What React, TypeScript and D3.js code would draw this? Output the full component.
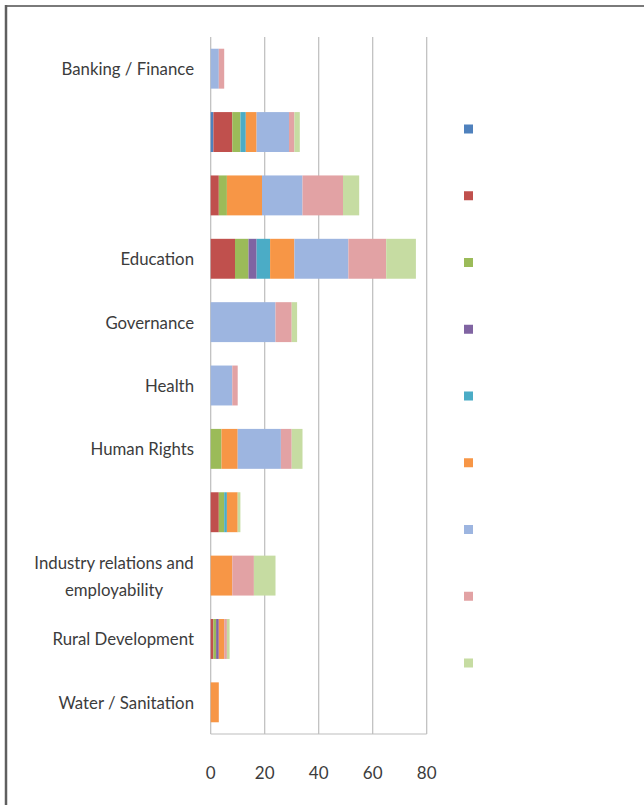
import React from "react";
import * as d3 from "d3";

const categories = [
  "Banking / Finance",
  "",
  " ",
  "Education",
  "Governance",
  "Health",
  "Human Rights",
  "  ",
  "Industry relations and|employability",
  "Rural Development",
  "Water / Sanitation",
];

const seriesKeys = ["s1", "s2", "s3", "s4", "s5", "s6", "s7", "s8", "s9"];
const seriesColors = [
  "#4F81BD", "#C0504D", "#9BBB59", "#8064A2", "#4BACC6",
  "#F79646", "#9DB5E0", "#E2A2A4", "#C6DCA2",
];

// values per category, in series order s1..s9
const s1 = [0, 1, 0, 0, 0, 0, 0, 0, 0, 0, 0];
const s2 = [0, 7, 3, 9, 0, 0, 0, 3, 0, 1, 0];
const s3 = [0, 3, 3, 5, 0, 0, 4, 2, 0, 1, 0];
const s4 = [0, 0, 0, 3, 0, 0, 0, 0, 0, 1, 0];
const s5 = [0, 2, 0, 5, 0, 0, 0, 1, 0, 0, 0];
const s6 = [0, 4, 13, 9, 0, 0, 6, 4, 8, 2, 3];
const s7 = [3, 12, 15, 20, 24, 8, 16, 0, 0, 0, 0];
const s8 = [2, 2, 15, 14, 6, 2, 4, 0, 8, 1, 0];
const s9 = [0, 2, 6, 11, 2, 0, 4, 1, 8, 1, 0];

const xTicks = [0, 20, 40, 60, 80];

const allSeries = [s1, s2, s3, s4, s5, s6, s7, s8, s9];

export default function App() {
  const W = 644;
  const H = 805;
  const left = 210.7;
  const right = 426.7;
  const top = 37;
  const bottom = 734;

  const x = d3.scaleLinear().domain([0, 80]).range([left, right]);
  const y = d3
    .scaleBand<string>()
    .domain(categories)
    .range([top, bottom])
    .paddingInner(0.37)
    .paddingOuter(0.185);

  const rows = categories.map((c, i) => {
    const r: any = { cat: c };
    seriesKeys.forEach((k, j) => (r[k] = allSeries[j][i]));
    return r;
  });
  const stacked = d3.stack<any>().keys(seriesKeys)(rows);

  const legendY = d3.scaleLinear().domain([0, 8]).range([129, 663]);

  const textColor = "#3c3c3c";
  const font = "Lato, 'Open Sans', sans-serif";
  const labelSize = 16.8;

  return (
    <svg
      width={W}
      height={H}
      style={{ position: "absolute", left: 0, top: 0, background: "#fff" }}
    >
      <rect x={0} y={0} width={W} height={H} fill="#fff" />
      {/* frame */}
      <line x1={5} y1={6} x2={W} y2={6} stroke="#7a7a7a" strokeWidth={2} />
      <line x1={6} y1={5} x2={6} y2={H} stroke="#5f5f5f" strokeWidth={2.5} />

      {/* gridlines */}
      {xTicks.map((t) => (
        <line
          key={"g" + t}
          x1={x(t)}
          x2={x(t)}
          y1={top}
          y2={bottom}
          stroke="#BDBDBD"
          strokeWidth={1.2}
        />
      ))}
      <line x1={left} x2={right} y1={bottom} y2={bottom} stroke="#BDBDBD" strokeWidth={1.2} />

      {/* bars */}
      {stacked.map((layer, j) => (
        <g key={layer.key} fill={seriesColors[j]}>
          {layer.map((d, i) =>
            d[1] - d[0] > 0 ? (
              <rect
                key={i}
                x={x(d[0])}
                width={x(d[1]) - x(d[0])}
                y={y(categories[i])}
                height={y.bandwidth()}
              />
            ) : null
          )}
        </g>
      ))}

      {/* category labels */}
      {categories.map((c) => {
        const lines = c.split("|").filter((s) => s.trim() !== "");
        if (lines.length === 0) return null;
        const cy = (y(c) as number) + y.bandwidth() / 2;
        if (lines.length === 1) {
          return (
            <text
              key={c}
              x={194}
              y={cy}
              textAnchor="end"
              dominantBaseline="central"
              fontFamily={font}
              fontSize={labelSize}
              fill={textColor}
            >
              {lines[0]}
            </text>
          );
        }
        return (
          <g key={c}>
            {lines.map((l, k) => (
              <text
                key={k}
                x={114}
                y={cy + (k - (lines.length - 1) / 2) * 27}
                textAnchor="middle"
                dominantBaseline="central"
                fontFamily={font}
                fontSize={labelSize}
                fill={textColor}
              >
                {l}
              </text>
            ))}
          </g>
        );
      })}

      {/* x tick labels */}
      {xTicks.map((t) => (
        <text
          key={"t" + t}
          x={x(t)}
          y={772}
          textAnchor="middle"
          dominantBaseline="central"
          fontFamily={font}
          fontSize={17}
          fill={textColor}
        >
          {t}
        </text>
      ))}

      {/* legend (no text) */}
      {seriesKeys.map((k, j) => (
        <rect
          key={"l" + k}
          x={464}
          y={legendY(j) - 4.5}
          width={9}
          height={9}
          fill={seriesColors[j]}
        />
      ))}
    </svg>
  );
}
